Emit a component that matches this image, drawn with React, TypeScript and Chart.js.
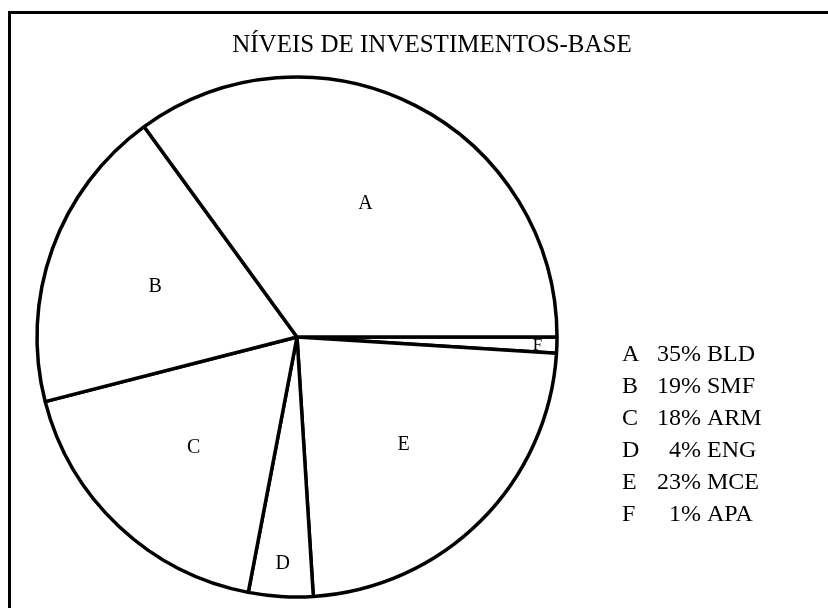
import React, { useEffect, useRef } from "react";
import { Chart, registerables } from "chart.js";

Chart.register(...registerables);

const TITLE = "NÍVEIS DE INVESTIMENTOS-BASE";
const letters = ["A", "B", "C", "D", "E", "F"];
const shares = [35, 19, 18, 4, 23, 1];
const names = ["BLD", "SMF", "ARM", "ENG", "MCE", "APA"];

// the drawing runs A, F, E, D, C, B clockwise: feed the reversed lists
const pieLetters = [...letters].reverse();
const pieShares = [...shares].reverse();

const FONT = '"Liberation Serif", "DejaVu Serif", serif';

const decorPlugin = {
  id: "decor",
  afterDraw(chart: any) {
    const ctx = chart.ctx as CanvasRenderingContext2D;
    ctx.save();
    // frame
    ctx.strokeStyle = "#000";
    ctx.lineWidth = 3;
    ctx.strokeRect(9.5, 12.5, 900, 700);

    // title
    ctx.fillStyle = "#000";
    ctx.font = `25px ${FONT}`;
    ctx.textAlign = "center";
    ctx.textBaseline = "alphabetic";
    ctx.fillText(TITLE, 432, 52);

    // slice letters
    const meta = chart.getDatasetMeta(0);
    const total = pieShares.reduce((a, b) => a + b, 0);
    ctx.textBaseline = "middle";
    meta.data.forEach((arc: any, i: number) => {
      const p = arc.getProps(["x", "y", "startAngle", "endAngle", "outerRadius"], true);
      const mid = (p.startAngle + p.endAngle) / 2;
      const frac = pieShares[i] / total;
      const thin = frac < 0.02;
      const k = thin ? 0.925 : frac < 0.05 ? 0.87 : 0.58;
      ctx.font = `${thin ? 17 : 20}px ${FONT}`;
      const r = p.outerRadius * k;
      ctx.fillText(pieLetters[i], p.x + Math.cos(mid) * r, p.y + Math.sin(mid) * r + 1);
    });

    // legend
    ctx.font = `24px ${FONT}`;
    ctx.textBaseline = "alphabetic";
    letters.forEach((l, i) => {
      const y = 361 + i * 32;
      ctx.textAlign = "left";
      ctx.fillText(l, 622, y);
      ctx.textAlign = "right";
      ctx.fillText(`${shares[i]}%`, 701, y);
      ctx.textAlign = "left";
      ctx.fillText(names[i], 707, y);
    });
    ctx.restore();
  },
};

export default function App() {
  const ref = useRef<HTMLCanvasElement | null>(null);
  useEffect(() => {
    if (!ref.current) return;
    const chart = new Chart(ref.current, {
      type: "pie",
      data: {
        labels: pieLetters,
        datasets: [
          {
            data: pieShares,
            backgroundColor: "#ffffff",
            borderColor: "#000000",
            borderWidth: 3.5,
          },
        ],
      },
      options: {
        animation: false,
        responsive: false,
        rotation: 90,
        radius: 260,
        layout: { padding: { left: 30, right: 264, top: 70, bottom: 4 } },
        plugins: {
          legend: { display: false },
          title: { display: false },
          tooltip: { enabled: false },
        },
      } as any,
      plugins: [decorPlugin],
    });
    return () => chart.destroy();
  }, []);
  return (
    <div style={{ position: "fixed", left: 0, top: 0, width: 828, height: 608, background: "#fff" }}>
      <canvas ref={ref} width={828} height={608} style={{ display: "block" }} />
    </div>
  );
}
